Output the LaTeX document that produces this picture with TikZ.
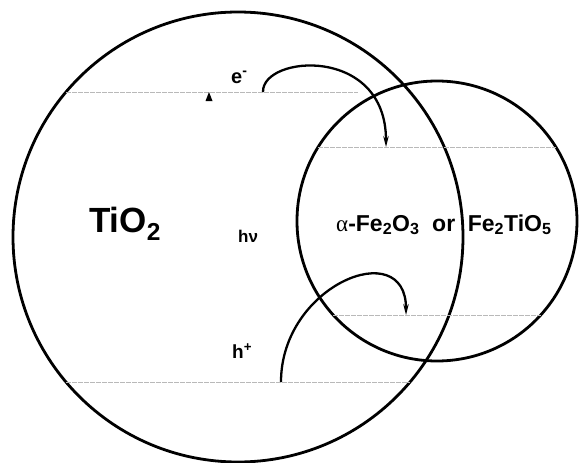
\documentclass[tikz,border=0pt]{standalone}
\usepackage{fontspec}
\setmainfont{Liberation Sans}
\newfontfamily\greekserif{Liberation Serif}
\usetikzlibrary{arrows.meta}

\begin{document}
\begin{tikzpicture}[x=1pt,y=-1pt,
    band/.style={gray!55,line width=0.7pt,dash pattern=on 5pt off 1pt},
    transfer/.style={line width=2.3pt,-{Stealth[open,length=11pt,width=5.5pt,line width=1.2pt]}},
    lbl/.style={inner sep=0pt,anchor=base west,font=\bfseries}]
  \useasboundingbox (0,0) rectangle (579,463);
  % the two particles
  \draw[line width=2.8pt] (238,237) circle[radius=225];
  \draw[line width=2.8pt] (437,221) circle[radius=140];
  % band edges (conduction above, valence below)
  \draw[band] (66,92) -- (358,92);
  \draw[band] (318,147) -- (556,147);
  \draw[band] (333,315) -- (541,315);
  \draw[band] (66,382) -- (410,382);
  % end points of the transfers
  \coordinate (cbTi) at (263,92);
  \coordinate (cbFe) at (386,147);
  \coordinate (vbTi) at (281,382);
  \coordinate (vbFe) at (406,315);
  % electron and hole transfer
  \draw[transfer] (cbTi) .. controls +(-1,-37) and +(0,-102) .. (cbFe);
  \draw[transfer] (vbTi) .. controls +(0,-97) and +(0,-80) .. (vbFe);
  % excitation tip
  \fill (205.5,101) -- (212.5,101) -- (209,92) -- cycle;
  % labels
  \node[lbl,font=\bfseries\fontsize{35}{35}\selectfont] (tio) at (89,232) {TiO\textsubscript{2}};
  \node[lbl,font=\bfseries\fontsize{17}{17}\selectfont] (hnu) at (238,242) {hν};
  \node[lbl,font=\bfseries\fontsize{20}{20}\selectfont] (elec) at (231,83) {e\textsuperscript{-}};
  \node[lbl,font=\bfseries\fontsize{19}{19}\selectfont] (hole) at (232,358) {h\textsuperscript{+}};
  \node[lbl,font=\bfseries\fontsize{23}{23}\selectfont] (feox) at (336,231)
    {{\greekserif\mdseries α}-Fe\textsubscript{2}O\textsubscript{3}\hspace{0.55em}or\hspace{0.55em}Fe\textsubscript{2}TiO\textsubscript{5}};
\end{tikzpicture}
\end{document}
